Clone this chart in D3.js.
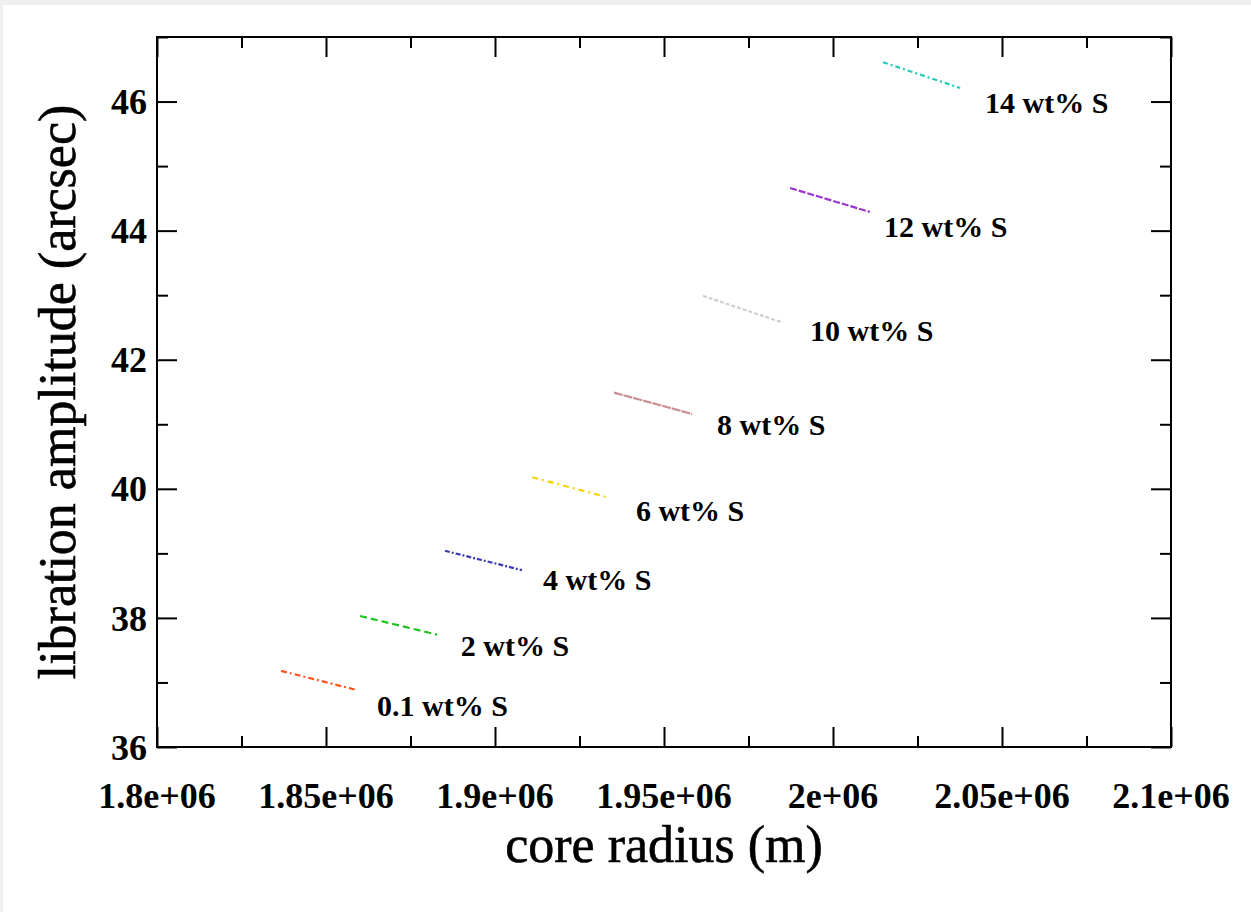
<!DOCTYPE html>
<html>
<head>
<meta charset="utf-8">
<script src="https://cdn.jsdelivr.net/npm/d3@7"></script>
<style>
  html, body { margin: 0; padding: 0; background: #f0f0f0; overflow: hidden; }
  svg#chart { position: absolute; left: 3px; top: 5px; background: #fff; }
  .tick-label { font-family: "Liberation Serif", "Times New Roman", serif; font-weight: bold; font-size: 36px; fill: #000; }
  .axis-title { font-family: "Liberation Serif", "Times New Roman", serif; font-size: 52px; fill: #000; stroke: #000; stroke-width: 0.6px; }
  .series-label { font-family: "Liberation Serif", "Times New Roman", serif; font-weight: bold; font-size: 30px; fill: #000; }
</style>
</head>
<body>
<svg id="chart"></svg>
<script>
// axis ticks and their labels
var xTicks = [1.8e6, 1.85e6, 1.9e6, 1.95e6, 2.0e6, 2.05e6, 2.1e6];
var xTickLabels = ["1.8e+06", "1.85e+06", "1.9e+06", "1.95e+06", "2e+06", "2.05e+06", "2.1e+06"];
var xMinorTicks = [1.825e6, 1.875e6, 1.925e6, 1.975e6, 2.025e6, 2.075e6];
var yTicks = [36, 38, 40, 42, 44, 46];
var yTickLabels = ["36", "38", "40", "42", "44", "46"];
var yMinorTicks = [37, 39, 41, 43, 45, 47];

// series: sulfur content, core radius (start/end) and libration amplitude (start/end)
var seriesNames = ["0.1 wt% S", "2 wt% S", "4 wt% S", "6 wt% S", "8 wt% S", "10 wt% S", "12 wt% S", "14 wt% S"];
var radiusStart = [1.8367e6, 1.8601e6, 1.8852e6, 1.9110e6, 1.9352e6, 1.9615e6, 1.9873e6, 2.0148e6];
var radiusEnd   = [1.8593e6, 1.8829e6, 1.9080e6, 1.9332e6, 1.9583e6, 1.9849e6, 2.0109e6, 2.0376e6];
var amplStart   = [37.18, 38.03, 39.04, 40.18, 41.49, 42.99, 44.66, 46.61];
var amplEnd     = [36.88, 37.74, 38.74, 39.87, 41.16, 42.58, 44.29, 46.21];

// where each series label sits (data units, left edge / vertical middle)
var labelRadius = [1.8651e6, 1.8899e6, 1.9142e6, 1.9417e6, 1.9657e6, 1.9932e6, 2.0151e6, 2.0450e6];
var labelAmpl   = [36.65, 37.58, 38.60, 39.67, 41.00, 42.46, 44.07, 45.98];

// line appearance
var lineColors = ["#ff5320", "#1fc41f", "#3b3bb0", "#f7d400", "#c89090", "#cfcfcf", "#9b33cf", "#22c9b9"];
var lineDashes = ["6,3,2,3", "7,4", "5,2,2,2", "6,4,2,4", "9,1", "4,2", "7,2", "5,3,2,3"];

// main draw
var width = 1248, height = 907;
var svg = d3.select("svg#chart").attr("width", width).attr("height", height);

// plot frame in svg coords (svg is offset 3,5 in the page)
var plotLeft = 154, plotRight = 1168, plotTop = 32, plotBottom = 742;

var x = d3.scaleLinear().domain([1.8e6, 2.1e6]).range([plotLeft, plotRight]);
var y = d3.scaleLinear().domain([36, 47]).range([plotBottom, plotTop]);

var majorLen = 20, minorLen = 11;

// ticks, drawn inward on all four sides
function addTicks(axisFn, scale, ticks, len, transform) {
	svg.append("g").attr("transform", transform)
			.call(axisFn(scale).tickValues(ticks).tickSize(-len).tickFormat(""))
			.call(function(g) {
				g.select(".domain").remove();
				g.selectAll("line").attr("stroke", "#000").attr("stroke-width", 2);
			});
}
addTicks(d3.axisBottom, x, xTicks, majorLen, "translate(0," + plotBottom + ")");
addTicks(d3.axisBottom, x, xMinorTicks, minorLen, "translate(0," + plotBottom + ")");
addTicks(d3.axisTop, x, xTicks, majorLen, "translate(0," + plotTop + ")");
addTicks(d3.axisTop, x, xMinorTicks, minorLen, "translate(0," + plotTop + ")");
addTicks(d3.axisLeft, y, yTicks, majorLen, "translate(" + plotLeft + ",0)");
addTicks(d3.axisLeft, y, yMinorTicks, minorLen, "translate(" + plotLeft + ",0)");
addTicks(d3.axisRight, y, yTicks, majorLen, "translate(" + plotRight + ",0)");
addTicks(d3.axisRight, y, yMinorTicks, minorLen, "translate(" + plotRight + ",0)");

// frame
svg.append("rect").attr("x", plotLeft).attr("y", plotTop).attr("width", plotRight - plotLeft)
		.attr("height", plotBottom - plotTop).attr("fill", "none").attr("stroke", "#000")
		.attr("stroke-width", 2);

// tick labels
svg.selectAll("text.xtick").data(xTicks).enter().append("text")
		.attr("class", "tick-label xtick").attr("text-anchor", "middle")
		.attr("x", function(d) { return x(d); }).attr("y", plotBottom + 61)
		.text(function(d, i) { return xTickLabels[i]; });

svg.selectAll("text.ytick").data(yTicks).enter().append("text")
		.attr("class", "tick-label ytick").attr("text-anchor", "end")
		.attr("x", plotLeft - 10).attr("y", function(d) { return y(d); })
		.attr("dy", "0.35em")
		.text(function(d, i) { return yTickLabels[i]; });

// axis titles
svg.append("text").attr("class", "axis-title").attr("text-anchor", "middle")
		.attr("x", (plotLeft + plotRight) / 2).attr("y", 857).text("core radius (m)");

svg.append("text").attr("class", "axis-title").attr("text-anchor", "middle")
		.attr("transform", "translate(72," + ((plotTop + plotBottom) / 2) + ") rotate(-90)")
		.text("libration amplitude (arcsec)");

// series lines
var line = d3.line().x(function(d) { return x(d[0]); }).y(function(d) { return y(d[1]); });
var seriesData = seriesNames.map(function(name, i) {
	return { name: name, points: [[radiusStart[i], amplStart[i]], [radiusEnd[i], amplEnd[i]]] };
});

svg.selectAll("path.series").data(seriesData).enter().append("path")
		.attr("class", "series").attr("fill", "none")
		.attr("stroke", function(d, i) { return lineColors[i]; })
		.attr("stroke-width", 2.2)
		.attr("stroke-dasharray", function(d, i) { return lineDashes[i]; })
		.attr("d", function(d) { return line(d.points); });

// series labels
svg.selectAll("text.series-label").data(seriesData).enter().append("text")
		.attr("class", "series-label")
		.attr("x", function(d, i) { return x(labelRadius[i]); })
		.attr("y", function(d, i) { return y(labelAmpl[i]); })
		.attr("dy", "0.35em")
		.text(function(d) { return d.name; });
</script>
</body>
</html>
